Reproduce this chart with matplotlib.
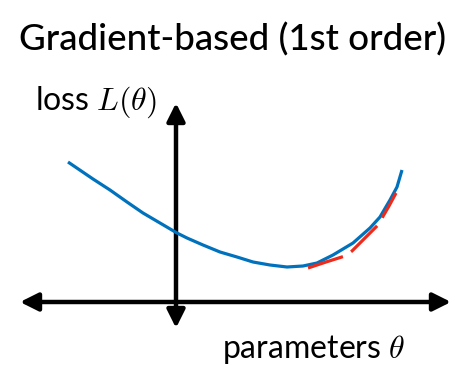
import matplotlib
matplotlib.use("Agg")
import matplotlib.pyplot as plt

plt.rcParams['mathtext.fontset'] = 'cm'

# loss curve L(theta)
theta = [-1.08, -0.83, -0.66, -0.49, -0.33, -0.16, 0.01, 0.11, 0.27, 0.44, 0.61,
         0.77, 0.94, 1.11, 1.27, 1.41, 1.57, 1.77, 1.94, 2.04, 2.14, 2.21, 2.26]
loss = [1.40, 1.23, 1.12, 1.00, 0.89, 0.79, 0.69, 0.64, 0.57, 0.50, 0.45,
        0.40, 0.37, 0.35, 0.36, 0.39, 0.47, 0.59, 0.74, 0.85, 1.02, 1.15, 1.32]

# first-order (gradient) approximation steps
step_theta = [1.32, 1.50, 1.69, 1.76, 1.89, 2.02, 2.06, 2.13, 2.20]
step_loss = [0.34, 0.40, 0.46, 0.51, 0.64, 0.77, 0.84, 0.96, 1.09]

title = "Gradient-based (1st order)"
ylabel = r"loss $L(\theta)$"
xlabel = r"parameters $\theta$"

fig = plt.figure(figsize=(4.76, 3.75), dpi=100)
ax = fig.add_axes([0, 0, 1, 1])
ax.set_xlim(-1.76, 3.00)
ax.set_ylim(-0.73, 3.02)
ax.axis('off')

arrow_kw = dict(arrowstyle="<|-|>,head_length=0.6,head_width=0.3",
                color="black", lw=3.2, mutation_scale=18, shrinkA=0, shrinkB=0)
ax.annotate("", xy=(2.75, 0), xytext=(-1.56, 0), arrowprops=arrow_kw)
ax.annotate("", xy=(0, 1.99), xytext=(0, -0.26), arrowprops=arrow_kw)

ax.plot(theta, loss, color="#0072BD", lw=2.3, solid_capstyle='butt',
        solid_joinstyle='round', zorder=3)
ax.plot(step_theta, step_loss, color="#EE2A1B", lw=2.3, dashes=(11.5, 3.0),
        dash_capstyle='butt', zorder=4)

fig.text(233 / 476, 1 - 50 / 375, title, ha='center', va='baseline',
         fontsize=26.5, fontfamily='Lato', fontweight='medium')
fig.text(35 / 476, 1 - 110 / 375, ylabel, ha='left', va='baseline',
         fontsize=23, fontfamily='Lato', fontweight='normal')
fig.text(222 / 476, 1 - 358 / 375, xlabel, ha='left', va='baseline',
         fontsize=23, fontfamily='Lato', fontweight='normal')

fig.savefig("out.png", dpi=100)
